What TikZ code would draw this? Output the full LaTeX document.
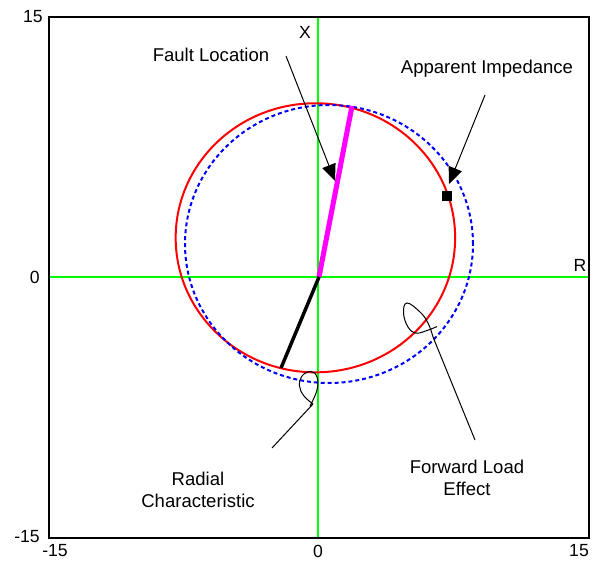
\documentclass[tikz,border=0pt]{standalone}
\usepackage{fontspec}
\setmainfont{Liberation Sans}
\usetikzlibrary{arrows.meta}
\definecolor{axgreen}{RGB}{0,255,0}
\definecolor{cred}{RGB}{255,0,0}
\definecolor{cblue}{RGB}{0,0,255}
\definecolor{cmag}{RGB}{255,0,255}
\begin{document}
\begin{tikzpicture}[x=0.75pt,y=-0.75pt,
  lbl/.style={font=\fontsize{13.9}{16.5}\selectfont, inner sep=0pt, align=center},
  num/.style={font=\fontsize{13.2}{15}\selectfont, inner sep=0pt},
  axisline/.style={draw=axgreen, line width=1.5pt},
  thinline/.style={draw=black, line width=0.75pt},
  pointer/.style={thinline, -{Triangle[length=12.5pt,width=10.5pt]}},
]
\useasboundingbox (0,0) rectangle (602,563);
% axes
\coordinate (xl) at (49,277);
\coordinate (xr) at (589,277);
\coordinate (yt) at (318,17);
\coordinate (yb) at (318,538);
\draw[axisline] (xl) -- (xr);
\draw[axisline] (yt) -- (yb);
% circles
\draw[cred, line width=1.5pt] (315.4,237.8) ellipse [x radius=104.8pt, y radius=100.9pt];
\draw[cblue, line width=1.5pt, dash pattern=on 3pt off 2.2pt] (329,244) ellipse [x radius=108pt, y radius=104.25pt];
% characteristic lines
\coordinate (o) at (319,277);
\coordinate (fault) at (352,106);
\coordinate (rev) at (281,368);
\draw[cmag, line width=3.8pt] (o) -- (fault);
\draw[black, line width=2.6pt] (o) -- (rev);
% apparent impedance marker
\node[fill=black, minimum size=7.8pt, inner sep=0pt] (zapp) at (447,196) {};
% frame
\draw[black, line width=1.5pt] (49,17) rectangle (589,538);
% axis labels
\node[num, anchor=east] (t15) at (43,17) {15};
\node[num, anchor=east] (t0) at (40,277) {0};
\node[num, anchor=east] (tm15) at (40,537) {-15};
\node[num] (b15m) at (55,551) {-15};
\node[num] (b0) at (318,551) {0};
\node[num] (b15) at (579,551) {15};
\node[num] (lx) at (305,32) {X};
\node[num] (lr) at (580,265) {R};
% annotations
\node[lbl] (fl) at (211,55) {Fault Location};
\coordinate (fls) at (286,56);
\coordinate (flt) at (335,181);
\draw[pointer] (fls) -- (flt);
\node[lbl] (ai) at (487,69) {Apparent Impedance};
\coordinate (ais) at (485,95);
\coordinate (ait) at (449,184);
\draw[pointer] (ais) -- (ait);
\node[lbl] (rc) at (198,490) {Radial\\Characteristic};
\coordinate (rcs) at (272,448);
\coordinate (rce) at (313,404);
\draw[thinline] (rcs) -- (rce)
  plot[smooth, tension=0.7] coordinates {(313,404) (304,396) (299.5,386) (302,376) (311,371.5) (317,377) (317,390) (310,406)};
\node[lbl] (fle) at (467,478) {Forward Load\\Effect};
\coordinate (fles) at (475,440);
\coordinate (flee) at (433,337);
\draw[thinline] (fles) -- (flee)
  plot[smooth, tension=0.7] coordinates {(433,337) (428,323) (420,312) (407,303) (403.5,313) (408,327) (416,333) (427,330.5) (437,326.5)};
\end{tikzpicture}
\end{document}
